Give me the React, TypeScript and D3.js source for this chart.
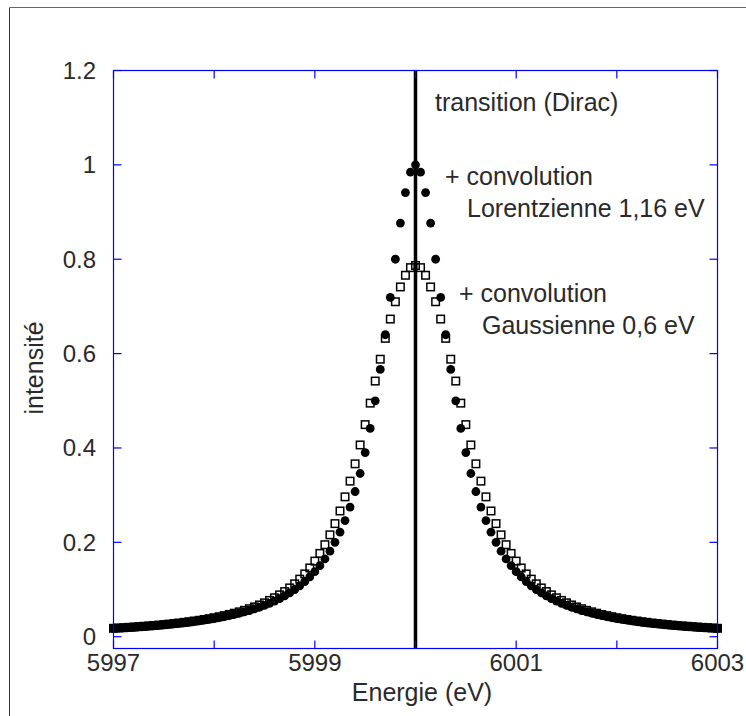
import React from "react";
import * as d3 from "d3";

// Energy grid (eV)
const energies = [
  5997.0, 5997.05, 5997.1, 5997.15, 5997.2, 5997.25, 5997.3, 5997.35, 5997.4, 5997.45,
  5997.5, 5997.55, 5997.6, 5997.65, 5997.7, 5997.75, 5997.8, 5997.85, 5997.9, 5997.95,
  5998.0, 5998.05, 5998.1, 5998.15, 5998.2, 5998.25, 5998.3, 5998.35, 5998.4, 5998.45,
  5998.5, 5998.55, 5998.6, 5998.65, 5998.7, 5998.75, 5998.8, 5998.85, 5998.9, 5998.95,
  5999.0, 5999.05, 5999.1, 5999.15, 5999.2, 5999.25, 5999.3, 5999.35, 5999.4, 5999.45,
  5999.5, 5999.55, 5999.6, 5999.65, 5999.7, 5999.75, 5999.8, 5999.85, 5999.9, 5999.95,
  6000.0,
  6000.05, 6000.1, 6000.15, 6000.2, 6000.25, 6000.3, 6000.35, 6000.4, 6000.45, 6000.5,
  6000.55, 6000.6, 6000.65, 6000.7, 6000.75, 6000.8, 6000.85, 6000.9, 6000.95, 6001.0,
  6001.05, 6001.1, 6001.15, 6001.2, 6001.25, 6001.3, 6001.35, 6001.4, 6001.45, 6001.5,
  6001.55, 6001.6, 6001.65, 6001.7, 6001.75, 6001.8, 6001.85, 6001.9, 6001.95, 6002.0,
  6002.05, 6002.1, 6002.15, 6002.2, 6002.25, 6002.3, 6002.35, 6002.4, 6002.45, 6002.5,
  6002.55, 6002.6, 6002.65, 6002.7, 6002.75, 6002.8, 6002.85, 6002.9, 6002.95, 6003.0,
];

// Lorentzian (filled circles)
const lorentzValues = [
  0.0175, 0.0181, 0.0187, 0.0193, 0.02, 0.0207, 0.0215, 0.0223, 0.0231, 0.024,
  0.025, 0.026, 0.027, 0.0282, 0.0294, 0.0306, 0.032, 0.0335, 0.035, 0.0367,
  0.0385, 0.0404, 0.0424, 0.0447, 0.0471, 0.0497, 0.0525, 0.0555, 0.0588, 0.0624,
  0.0664, 0.0707, 0.0755, 0.0807, 0.0865, 0.0929, 0.1, 0.1079, 0.1168, 0.1267,
  0.1379, 0.1506, 0.1649, 0.1813, 0.2, 0.2215, 0.2462, 0.2747, 0.3077, 0.3459,
  0.3902, 0.4414, 0.5, 0.5664, 0.64, 0.7191, 0.8, 0.8767, 0.9412, 0.9846,
  1.0,
  0.9846, 0.9412, 0.8767, 0.8, 0.7191, 0.64, 0.5664, 0.5, 0.4414, 0.3902,
  0.3459, 0.3077, 0.2747, 0.2462, 0.2215, 0.2, 0.1813, 0.1649, 0.1506, 0.1379,
  0.1267, 0.1168, 0.1079, 0.1, 0.0929, 0.0865, 0.0807, 0.0755, 0.0707, 0.0664,
  0.0624, 0.0588, 0.0555, 0.0525, 0.0497, 0.0471, 0.0447, 0.0424, 0.0404, 0.0385,
  0.0367, 0.035, 0.0335, 0.032, 0.0306, 0.0294, 0.0282, 0.027, 0.026, 0.025,
  0.024, 0.0231, 0.0223, 0.0215, 0.0207, 0.02, 0.0193, 0.0187, 0.0181, 0.0175,
];

// Lorentzian + Gaussian convolution (open squares)
const voigtValues = [
  0.0178, 0.0185, 0.0191, 0.0198, 0.0205, 0.0213, 0.0221, 0.0229, 0.0238, 0.0247,
  0.0257, 0.0268, 0.0279, 0.0291, 0.0304, 0.0318, 0.0333, 0.0348, 0.0365, 0.0383,
  0.0403, 0.0424, 0.0447, 0.0471, 0.0498, 0.0527, 0.0559, 0.0593, 0.0631, 0.0673,
  0.0718, 0.0769, 0.0825, 0.0887, 0.0956, 0.1034, 0.1121, 0.122, 0.1331, 0.1457,
  0.1602, 0.1765, 0.195, 0.2159, 0.2397, 0.2665, 0.2964, 0.3297, 0.3664, 0.4064,
  0.4495, 0.495, 0.5418, 0.5881, 0.6323, 0.6732, 0.7099, 0.7413, 0.766, 0.7822,
  0.7868,
  0.7822, 0.766, 0.7413, 0.7099, 0.6732, 0.6323, 0.5881, 0.5418, 0.495, 0.4495,
  0.4064, 0.3664, 0.3297, 0.2964, 0.2665, 0.2397, 0.2159, 0.195, 0.1765, 0.1602,
  0.1457, 0.1331, 0.122, 0.1121, 0.1034, 0.0956, 0.0887, 0.0825, 0.0769, 0.0718,
  0.0673, 0.0631, 0.0593, 0.0559, 0.0527, 0.0498, 0.0471, 0.0447, 0.0424, 0.0403,
  0.0383, 0.0365, 0.0348, 0.0333, 0.0318, 0.0304, 0.0291, 0.0279, 0.0268, 0.0257,
  0.0247, 0.0238, 0.0229, 0.0221, 0.0213, 0.0205, 0.0198, 0.0191, 0.0185, 0.0178,
];

const diracEnergy = 6000;
const xTicks = [5997, 5998, 5999, 6000, 6001, 6002, 6003];
const xTickLabels = ["5997", "", "5999", "", "6001", "", "6003"];
const yTicks = [0, 0.2, 0.4, 0.6, 0.8, 1, 1.2];
const yTickLabels = ["0", "0.2", "0.4", "0.6", "0.8", "1", "1.2"];

const W = 746;
const H = 716;
const L = 113.5;
const R = 717.5;
const T = 70.5;
const B = 648.5;
const FONT = "'Liberation Sans', Arial, Helvetica, sans-serif";
const AXIS = "#0000ff";
const TXT = "#2a2a2a";

export default function App() {
  const x = d3.scaleLinear().domain([5997, 6003]).range([L, R]);
  const y = d3.scaleLinear().domain([-0.025, 1.2]).range([B, T]);
  const tk = 8;
  const sq = 7.5;

  return (
    <svg
      width={W}
      height={H}
      style={{ position: "absolute", left: 0, top: 0, background: "#fff" }}
      fontFamily={FONT}
    >
      <rect x={0} y={0} width={W} height={H} fill="#fff" />
      {/* outer frame */}
      <line x1={9.5} y1={7.5} x2={9.5} y2={H} stroke="#333" strokeWidth={1} />
      <line x1={9.5} y1={7.5} x2={W} y2={7.5} stroke="#666" strokeWidth={1} />

      {/* squares (convolution with gaussian) */}
      {energies.map((e, i) => (
        <rect
          key={"s" + i}
          x={x(e) - sq / 2}
          y={y(voigtValues[i]) - sq / 2}
          width={sq}
          height={sq}
          fill="none"
          stroke="#000"
          strokeWidth={1.5}
        />
      ))}
      {/* circles (lorentzian) */}
      {energies.map((e, i) => (
        <circle key={"c" + i} cx={x(e)} cy={y(lorentzValues[i])} r={4.4} fill="#000" />
      ))}

      {/* Dirac transition line */}
      <line
        x1={x(diracEnergy)}
        x2={x(diracEnergy)}
        y1={B}
        y2={T}
        stroke="#000"
        strokeWidth={3.5}
      />

      {/* axes box */}
      <rect x={L} y={T} width={R - L} height={B - T} fill="none" stroke={AXIS} strokeWidth={1.2} />
      {xTicks.map((t) => (
        <g key={"xt" + t}>
          <line x1={x(t)} x2={x(t)} y1={B} y2={B - tk} stroke={AXIS} strokeWidth={1.2} />
          <line x1={x(t)} x2={x(t)} y1={T} y2={T + tk} stroke={AXIS} strokeWidth={1.2} />
        </g>
      ))}
      {yTicks.map((t) => (
        <g key={"yt" + t}>
          <line x1={L} x2={L + tk} y1={y(t)} y2={y(t)} stroke={AXIS} strokeWidth={1.2} />
          <line x1={R} x2={R - tk} y1={y(t)} y2={y(t)} stroke={AXIS} strokeWidth={1.2} />
        </g>
      ))}

      {/* tick labels */}
      {xTicks.map((t, i) => (
        <text
          key={"xl" + t}
          x={x(t)}
          y={671}
          textAnchor="middle"
          fontSize={24}
          fill={TXT}
        >
          {xTickLabels[i]}
        </text>
      ))}
      {yTicks.map((t, i) => (
        <text
          key={"yl" + t}
          x={96}
          y={y(t) + 8.5}
          textAnchor="end"
          fontSize={24}
          fill={TXT}
        >
          {yTickLabels[i]}
        </text>
      ))}

      {/* axis labels */}
      <text x={422} y={701} textAnchor="middle" fontSize={25} fill={TXT}>
        Energie (eV)
      </text>
      <text
        transform="translate(43,368) rotate(-90)"
        textAnchor="middle"
        fontSize={25}
        fill={TXT}
      >
        intensité
      </text>

      {/* annotations */}
      <text x={435} y={111} fontSize={25} fill={TXT}>
        transition (Dirac)
      </text>
      <text x={445} y={185} fontSize={25} fill={TXT}>
        + convolution
      </text>
      <text x={467} y={217} fontSize={25} fill={TXT}>
        Lorentzienne 1,16 eV
      </text>
      <text x={459} y={302} fontSize={25} fill={TXT}>
        + convolution
      </text>
      <text x={482} y={334} fontSize={25} fill={TXT}>
        Gaussienne 0,6 eV
      </text>
    </svg>
  );
}
